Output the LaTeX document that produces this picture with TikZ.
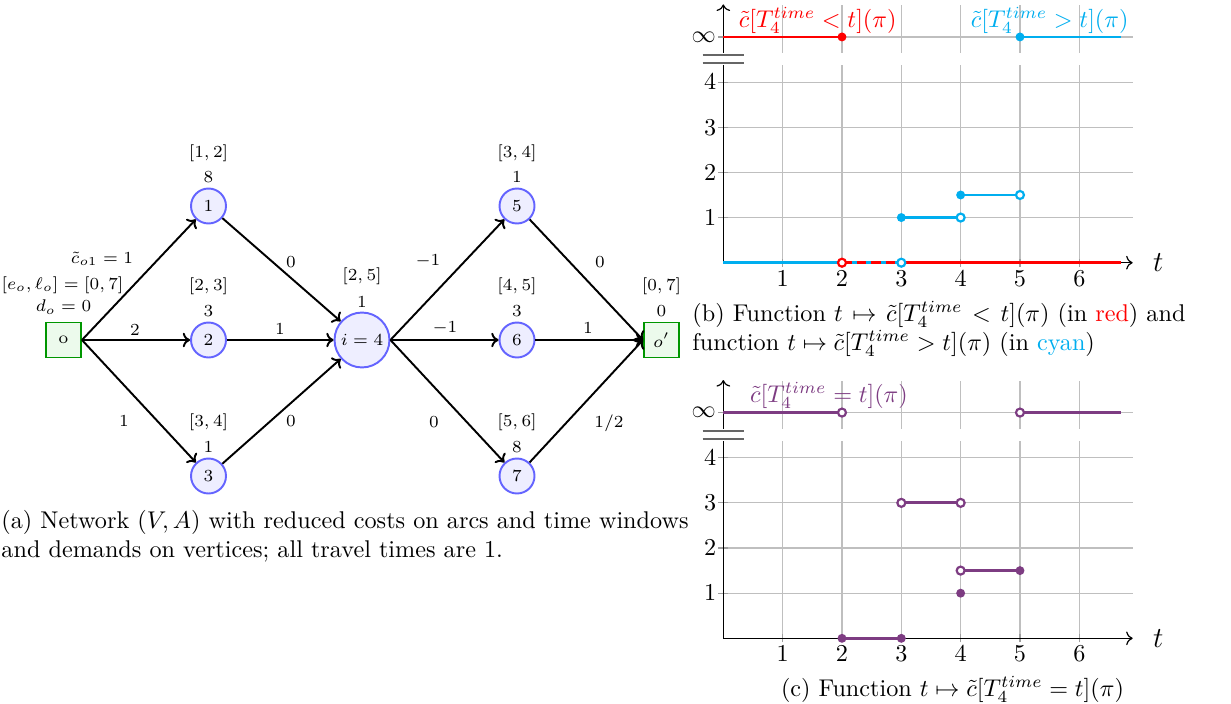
\documentclass[tikz,border=0pt]{standalone}
\usepackage{amsmath}
\usetikzlibrary{arrows.meta}
\setlength{\parindent}{0pt}
\definecolor{mycyan}{RGB}{0,174,239}
\definecolor{mypurple}{RGB}{125,60,130}
\definecolor{nodeblue}{RGB}{100,100,255}
\definecolor{nodefill}{RGB}{238,238,255}
\definecolor{dgreen}{RGB}{0,150,0}
\definecolor{lgreen}{RGB}{236,250,236}
\newcommand{\filldot}[2]{\fill[#1] (#2) circle[radius=1.85pt];}
\newcommand{\opendot}[2]{\draw[#1, fill=white, line width=0.9pt] (#2) circle[radius=1.65pt];}
\begin{document}
\begin{tikzpicture}[x=0.4132pt,y=-0.4132pt,
  vtx/.style={circle, draw=nodeblue, fill=nodefill, line width=0.8pt, minimum size=14.46pt, inner sep=0pt, font=\scriptsize},
  depot/.style={rectangle, draw=dgreen, fill=lgreen, line width=0.8pt, minimum size=14.46pt, inner sep=0pt, font=\scriptsize},
  lbl/.style={font=\scriptsize, inner sep=0pt},
  arc/.style={-{To[length=3pt,width=6pt]}, line width=0.8pt},
  gridline/.style={gray!50, line width=0.5pt},
  tickmark/.style={gray!75, line width=0.5pt},
  axisline/.style={black, line width=0.5pt, ->},
  brk/.style={black!60, line width=0.8pt},
  crv/.style={line width=1.2pt},
  ticklbl/.style={inner sep=0pt},
  captxt/.style={inner sep=0pt}
]
\useasboundingbox (0,0) rectangle (1231,704);

% ---------------- network ----------------
\node[depot] (o) at (63.5,340) {o};
\node[vtx] (n1) at (208.5,206) {1};
\node[vtx] (n2) at (208.5,340) {2};
\node[vtx] (n3) at (208.5,476) {3};
\node[vtx, minimum size=22.7pt] (n4) at (362,340) {$i=4$};
\node[vtx] (n5) at (517,206) {5};
\node[vtx] (n6) at (517,340) {6};
\node[vtx] (n7) at (517,476) {7};
\node[depot] (op) at (661.5,340) {$o'$};

% vertex data
\node[lbl] (do) at (63.5,307) {$d_o=0$};
\node[lbl] (tw0) at (62.5,285) {$[e_o,\ell_o]=[0,7]$};
\node[lbl] (w1) at (208.5,153) {$[1,2]$};
\node[lbl] (d1) at (208.5,177) {$8$};
\node[lbl] (w2) at (208.5,286) {$[2,3]$};
\node[lbl] (d2) at (208.5,311.5) {$3$};
\node[lbl] (w3) at (208.5,422) {$[3,4]$};
\node[lbl] (d3) at (208.5,447) {$1$};
\node[lbl] (w4) at (362,276) {$[2,5]$};
\node[lbl] (d4) at (362,302) {$1$};
\node[lbl] (w5) at (517,153) {$[3,4]$};
\node[lbl] (d5) at (517,177) {$1$};
\node[lbl] (w6) at (517,286) {$[4,5]$};
\node[lbl] (d6) at (517,311.5) {$3$};
\node[lbl] (w7) at (517,422) {$[5,6]$};
\node[lbl] (d7) at (517,447) {$8$};
\node[lbl] (wop) at (661.5,286) {$[0,7]$};
\node[lbl] (dop) at (661.5,311.5) {$0$};

% arcs
\draw[arc] (o.east) -- (n1);
\draw[arc] (o.east) -- (n2);
\draw[arc] (o.east) -- (n3);
\draw[arc] (n1) -- (n4);
\draw[arc] (n2) -- (n4);
\draw[arc] (n3) -- (n4);
\draw[arc] (n4.east) -- (n5);
\draw[arc] (n4.east) -- (n6);
\draw[arc] (n4.east) -- (n7);
\draw[arc] (n5) -- (op.west);
\draw[arc] (n6) -- (op.west);
\draw[arc] (n7) -- (op.west);

% arc costs
\node[lbl] (c01) at (102,259) {$\tilde{c}_{o1}=1$};
\node[lbl] (c02) at (135,330) {$2$};
\node[lbl] (c03) at (124,421) {$1$};
\node[lbl] (c14) at (291,262) {$0$};
\node[lbl] (c24) at (280,329) {$1$};
\node[lbl] (c34) at (291,421) {$0$};
\node[lbl] (c45) at (428,261) {$-1$};
\node[lbl] (c46) at (445,328) {$-1$};
\node[lbl] (c47) at (434,422) {$0$};
\node[lbl] (c5o) at (600,262) {$0$};
\node[lbl] (c6o) at (588,328) {$1$};
\node[lbl] (c7o) at (609,423) {$1/2$};

\node[captxt, anchor=north west, text width=282.2pt, align=left] (capa) at (1,510)
  {\makebox[282.2pt][s]{(a) Network $(V,A)$ with reduced costs on arcs and time windows}\\
   and demands on vertices; all travel times are 1.};

% ---------------- plot (b) ----------------
\begin{scope}[shift={(298.87pt,-108.55pt)}, x=24.515pt, y=18.656pt]
\foreach \y in {1,...,5} \draw[gridline] (0,\y) -- (6.9,\y);
\foreach \x in {1,...,6} \draw[gridline] (\x,0) -- (\x,5.7);
\foreach \x in {1,...,6} \draw[tickmark] (\x,-0.09) -- (\x,0.09);
\foreach \y in {1,...,5} \draw[tickmark] (-0.085,\y) -- (0.085,\y);
\draw[axisline] (0,0) -- (6.9,0);
\draw[axisline] (0,0) -- (0,5.72);
\fill[white] (-0.1,4.38) rectangle (6.95,4.64);
\draw[brk] (-0.35,4.42) -- (0.35,4.42);
\draw[brk] (-0.35,4.6) -- (0.35,4.6);
\foreach \x in {1,...,6} \node[ticklbl, anchor=base] (bx\x) at (\x,-0.52) {$\x$};
\foreach \y in {1,...,4} \node[ticklbl, anchor=east] (by\y) at (-0.11,\y) {$\y$};
\node[ticklbl, anchor=east] (binf) at (-0.12,5) {$\infty$};
\node[font=\large, inner sep=0pt] (bt) at (7.33,0) {$t$};
\draw[crv, mycyan] (0,0) -- (3,0);
\draw[crv, red, dash pattern=on 4pt off 2pt] (2,0) -- (3,0);
\draw[crv, red] (3,0) -- (6.7,0);
\draw[crv, red] (0,5) -- (2,5);
\draw[crv, mycyan] (3,1) -- (4,1);
\draw[crv, mycyan] (4,1.5) -- (5,1.5);
\draw[crv, mycyan] (5,5) -- (6.7,5);
\filldot{red}{2,5}
\opendot{red}{2,0}
\opendot{mycyan}{3,0}
\filldot{mycyan}{3,1}
\opendot{mycyan}{4,1}
\filldot{mycyan}{4,1.5}
\opendot{mycyan}{5,1.5}
\filldot{mycyan}{5,5}
\node[ticklbl, anchor=base, text=red] (lblred) at (1.59,5.22) {$\tilde{c}[T_4^{time}<t](\pi)$};
\node[ticklbl, anchor=base, text=mycyan] (lblcyan) at (5.5,5.22) {$\tilde{c}[T_4^{time}>t](\pi)$};
\end{scope}

\node[captxt, anchor=north west, text width=203.7pt, align=left] (capb) at (692,301)
  {\makebox[203.7pt][s]{(b) Function $t\mapsto\tilde{c}[T_4^{time}<t](\pi)$ (in \textcolor{red}{red}) and}\\
   function $t\mapsto\tilde{c}[T_4^{time}>t](\pi)$ (in \textcolor{mycyan}{cyan})};

% ---------------- plot (c) ----------------
\begin{scope}[shift={(298.87pt,-263.75pt)}, x=24.515pt, y=18.656pt]
\foreach \y in {1,...,5} \draw[gridline] (0,\y) -- (6.9,\y);
\foreach \x in {1,...,6} \draw[gridline] (\x,0) -- (\x,5.7);
\foreach \x in {1,...,6} \draw[tickmark] (\x,-0.09) -- (\x,0.09);
\foreach \y in {1,...,5} \draw[tickmark] (-0.085,\y) -- (0.085,\y);
\draw[axisline] (0,0) -- (6.9,0);
\draw[axisline] (0,0) -- (0,5.72);
\fill[white] (-0.1,4.37) rectangle (6.95,4.63);
\draw[brk] (-0.35,4.41) -- (0.35,4.41);
\draw[brk] (-0.35,4.59) -- (0.35,4.59);
\foreach \x in {1,...,6} \node[ticklbl, anchor=base] (cx\x) at (\x,-0.52) {$\x$};
\foreach \y in {1,...,4} \node[ticklbl, anchor=east] (cy\y) at (-0.11,\y) {$\y$};
\node[ticklbl, anchor=east] (cinf) at (-0.12,5) {$\infty$};
\node[font=\large, inner sep=0pt] (ct) at (7.33,0) {$t$};
\draw[crv, mypurple] (0,5) -- (2,5);
\draw[crv, mypurple] (5,5) -- (6.7,5);
\draw[crv, mypurple] (3,3) -- (4,3);
\draw[crv, mypurple] (4,1.5) -- (5,1.5);
\draw[crv, mypurple] (2,0) -- (3,0);
\opendot{mypurple}{2,5}
\opendot{mypurple}{5,5}
\opendot{mypurple}{3,3}
\opendot{mypurple}{4,3}
\opendot{mypurple}{4,1.5}
\filldot{mypurple}{5,1.5}
\filldot{mypurple}{4,1}
\filldot{mypurple}{2,0}
\filldot{mypurple}{3,0}
\node[ticklbl, anchor=base, text=mypurple] (lblpur) at (1.78,5.23) {$\tilde{c}[T_4^{time}=t](\pi)$};
\end{scope}

\node[captxt, anchor=base] (capc) at (952.5,696) {(c) Function $t\mapsto\tilde{c}[T_4^{time}=t](\pi)$};
\end{tikzpicture}
\end{document}
